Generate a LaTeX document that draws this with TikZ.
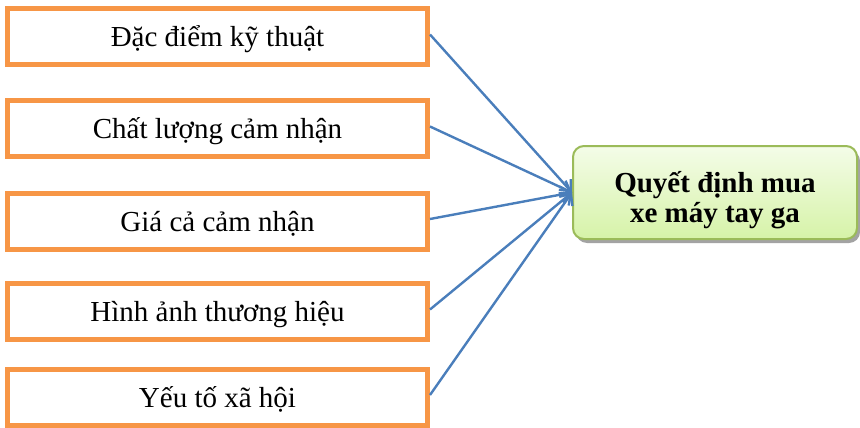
\documentclass[tikz,border=0pt]{standalone}
\usepackage{fontspec}
\setmainfont{Liberation Serif}
\usetikzlibrary{arrows.meta,shadows}
\definecolor{boxorange}{HTML}{F79646}
\definecolor{linkblue}{HTML}{4A7EBB}
\definecolor{goalgreen}{HTML}{9BBB59}
\definecolor{goaltop}{HTML}{F4FCE8}
\definecolor{goalbottom}{HTML}{D6F3A8}
\tikzset{
  factor/.style={draw=boxorange, line width=5pt, fill=white,
    minimum width=420pt, minimum height=56pt, inner sep=0pt,
    text height=20pt, text depth=0pt,
    font=\fontsize{29}{33}\selectfont},
  goal/.style={draw=goalgreen, line width=2pt, rounded corners=11pt,
    top color=goaltop, bottom color=goalbottom,
    minimum width=284pt, minimum height=93pt, inner sep=0pt,
    text height=20pt, text depth=21pt,
    font=\fontsize{29}{30}\selectfont\bfseries,
    drop shadow={shadow xshift=3pt, shadow yshift=-4pt, fill=black!45, opacity=0.8}},
  link/.style={draw=linkblue, line width=2.4pt,
    -{Straight Barb[length=9pt, width=16pt, line width=2.4pt]}}
}
\begin{document}
\begin{tikzpicture}[x=1pt, y=-1pt]
  \useasboundingbox (0,0) rectangle (860,428);
  \node[factor] (f1) at (217.5, 36.5) {Đặc điểm kỹ thuật};
  \node[factor] (f2) at (217.5, 128.5) {Chất lượng cảm nhận};
  \node[factor] (f3) at (217.5, 221) {Giá cả cảm nhận};
  \node[factor] (f4) at (217.5, 311.5) {Hình ảnh thương hiệu};
  \node[factor] (f5) at (217.5, 397) {Yếu tố xã hội};
  \node[goal] (g) at (715, 192.5)
    {\begin{tabular}[t]{@{}c@{}}Quyết định mua\\xe máy tay ga\end{tabular}};
  \foreach \i in {1,...,5} {
    \draw[link] ([yshift=2pt]f\i.east) -- (g.west);
  }
\end{tikzpicture}
\end{document}
